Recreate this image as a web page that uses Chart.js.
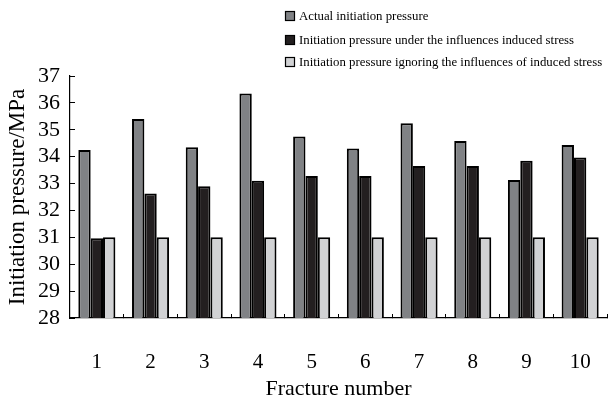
<!DOCTYPE html>
<html>
<head>
<meta charset="utf-8">
<script src="https://cdn.jsdelivr.net/npm/chart.js@4"></script>
<style>
  body { margin: 0; background: #fff; }
  #wrap { width: 612px; height: 402px; }
</style>
</head>
<body>
<div id="wrap"><canvas id="chart"></canvas></div>
<script>
const fractures = ['1', '2', '3', '4', '5', '6', '7', '8', '9', '10'];
const actualPressure = [34.25, 35.4, 34.35, 36.35, 34.75, 34.3, 35.24, 34.58, 33.13, 34.43];
const inducedPressure = [30.97, 32.63, 32.9, 33.1, 33.28, 33.28, 33.65, 33.65, 33.85, 33.97];
const ignoringPressure = [31, 31, 31, 31, 31, 31, 31, 31, 31, 31];
const yTicks = [28, 29, 30, 31, 32, 33, 34, 35, 36, 37];

const serif = '"Liberation Serif", "Times New Roman", serif';

// legend stacked at the top right, left aligned
const stackedLegend = {
    id: 'stackedLegend',
    afterDraw(c) {
        const ctx = c.ctx;
        const rows = [16, 40, 62];
        ctx.save();
        ctx.font = '12.8px ' + serif;
        ctx.textBaseline = 'middle';
        c.data.datasets.forEach((ds, i) => {
            const y = rows[i];
            ctx.fillStyle = ds.backgroundColor;
            ctx.fillRect(285.5, y - 4.5, 9, 9);
            ctx.strokeStyle = '#000';
            ctx.lineWidth = 1.2;
            ctx.strokeRect(285.5, y - 4.5, 9, 9);
            ctx.fillStyle = '#000';
            ctx.fillText(ds.label, 299, y + 1);
        });
        ctx.restore();
    }
};

new Chart(document.querySelector('#chart').getContext('2d'), {
    type: 'bar',
    data: {
        labels: fractures,
        datasets: [
            {
                label: 'Actual initiation pressure',
                data: actualPressure,
                backgroundColor: '#808285',
                borderColor: '#000',
                borderWidth: 2
            },
            {
                label: 'Initiation pressure under the influences induced stress',
                data: inducedPressure,
                backgroundColor: '#231f20',
                borderColor: '#000',
                borderWidth: 2
            },
            {
                label: 'Initiation pressure ignoring the influences of induced stress',
                data: ignoringPressure,
                backgroundColor: '#d1d2d4',
                borderColor: '#000',
                borderWidth: 2
            }
        ]
    },
    options: {
        responsive: true,
        maintainAspectRatio: false,
        animation: false,
        layout: { padding: { top: 76, right: 5, left: 0, bottom: 0 } },
        datasets: { bar: { categoryPercentage: 0.69, barPercentage: 1 } },
        plugins: {
            legend: { display: false },
            tooltip: { enabled: false }
        },
        scales: {
            x: {
                afterFit(scale) {
                    scale.height = 84;
                    scale.paddingLeft = 0;
                    scale.paddingRight = 0;
                },
                grid: { drawOnChartArea: false, offset: true, color: '#000', tickLength: -4, lineWidth: 1 },
                border: { color: '#000', width: 1.2 },
                ticks: { color: '#000', font: { family: serif, size: 21 }, padding: 36 },
                title: {
                    display: true, text: 'Fracture number', color: '#000',
                    font: { family: serif, size: 22 }, padding: { top: 0, bottom: 0 }
                }
            },
            y: {
                min: 28,
                max: 37,
                afterFit(scale) { scale.width = 70; },
                afterBuildTicks(scale) { scale.ticks = yTicks.map(v => ({ value: v })); },
                grid: { drawOnChartArea: false, color: '#000', tickLength: -5, lineWidth: 1 },
                border: { color: '#000', width: 1.2 },
                ticks: { color: '#000', font: { family: serif, size: 22 }, padding: 15, autoSkip: false },
                title: {
                    display: true, text: 'Initiation pressure/MPa', color: '#000',
                    font: { family: serif, size: 23 }, padding: { top: 4, bottom: 0 }
                }
            }
        }
    },
    plugins: [stackedLegend]
});
</script>
</body>
</html>
